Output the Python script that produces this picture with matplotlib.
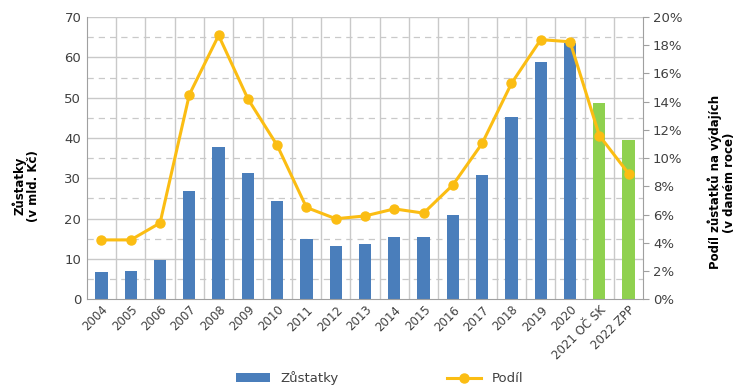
import matplotlib.pyplot as plt
import numpy as np
from matplotlib.ticker import FuncFormatter, MultipleLocator

# Data
roky = ['2004', '2005', '2006', '2007', '2008', '2009', '2010', '2011', '2012',
        '2013', '2014', '2015', '2016', '2017', '2018', '2019', '2020',
        '2021 OČ SK', '2022 ZPP']
zustatky = [6.7, 7.0, 9.8, 26.9, 37.8, 31.2, 24.4, 14.9, 13.2,
            13.6, 15.4, 15.5, 20.9, 30.8, 45.3, 58.8, 63.5, 48.8, 39.4]
podil = [4.2, 4.2, 5.4, 14.5, 18.7, 14.2, 10.9, 6.5, 5.7,
         5.9, 6.4, 6.1, 8.1, 11.05, 15.3, 18.4, 18.25, 11.6, 8.9]
odhad = [False] * 17 + [True, True]

modra = '#4a7ebb'
zelena = '#8fd14f'
zluta = '#fbbd13'
seda = '#c9c9c9'
text_barva = '#404040'

plt.rcParams['font.family'] = ['DejaVu Sans']
fig = plt.figure(figsize=(7.36, 3.88), dpi=100)
ax = fig.add_axes([0.118, 0.229, 0.756, 0.727])
ax2 = ax.twinx()

x = np.arange(len(roky))
barvy = [zelena if o else modra for o in odhad]
sloupce = ax.bar(x, zustatky, width=0.42, color=barvy, zorder=2, label='Zůstatky')
cara, = ax2.plot(x, [p / 100 for p in podil], color=zluta, lw=2.2, marker='o',
                 markersize=6.5, zorder=3, label='Podíl')

ax.set_xlim(-0.5, len(roky) - 0.5)
ax.set_ylim(0, 70)
ax2.set_ylim(0, 0.20)
ax.yaxis.set_major_locator(MultipleLocator(10))
ax2.yaxis.set_major_locator(MultipleLocator(0.02))
ax2.yaxis.set_major_formatter(FuncFormatter(lambda v, p: f'{v * 100:.0f}%'))

# mřížka
for yv in range(10, 71, 10):
    ax.axhline(yv, color=seda, lw=1.0, zorder=0)
for yv in range(5, 70, 10):
    ax.axhline(yv, color=seda, lw=0.9, ls=(0, (5, 4)), zorder=0)
for xv in np.arange(0.5, len(roky) - 0.5, 1):
    ax.axvline(xv, color=seda, lw=1.0, zorder=0)

for a in (ax, ax2):
    for s in a.spines.values():
        s.set_visible(False)
ax.spines['left'].set_visible(True)
ax.spines['left'].set_color('#a0a0a0')
ax.spines['bottom'].set_visible(True)
ax.spines['bottom'].set_color('#a0a0a0')
ax2.spines['right'].set_visible(True)
ax2.spines['right'].set_color('#a0a0a0')

ax.set_xticks(x)
ax.set_xticklabels(roky, rotation=45, ha='right', rotation_mode='anchor')
ax.tick_params(axis='x', length=0, pad=3, labelsize=8.5, colors=text_barva)
ax.tick_params(axis='y', length=0, pad=4, labelsize=9.5, colors=text_barva)
ax2.tick_params(axis='y', length=4, color='#a0a0a0', pad=3, labelsize=9.5,
                colors=text_barva)

fig.text(0.035, 0.52, 'Zůstatky\n(v mld. Kč)', rotation=90, ha='center',
         va='center', fontsize=8.5, fontweight='bold', linespacing=1.1)
fig.text(0.981, 0.53, 'Podíl zůstatků na výdajích\n(v daném roce)', rotation=90,
         ha='center', va='center', fontsize=8.5, fontweight='bold', linespacing=1.1)

fig.legend([sloupce, cara], ['Zůstatky', 'Podíl'], loc='center',
           bbox_to_anchor=(0.516, 0.025), ncol=2, frameon=False, fontsize=9.5,
           columnspacing=8.2, handlelength=2.6, labelcolor=text_barva)

fig.savefig('out.png', dpi=100)
